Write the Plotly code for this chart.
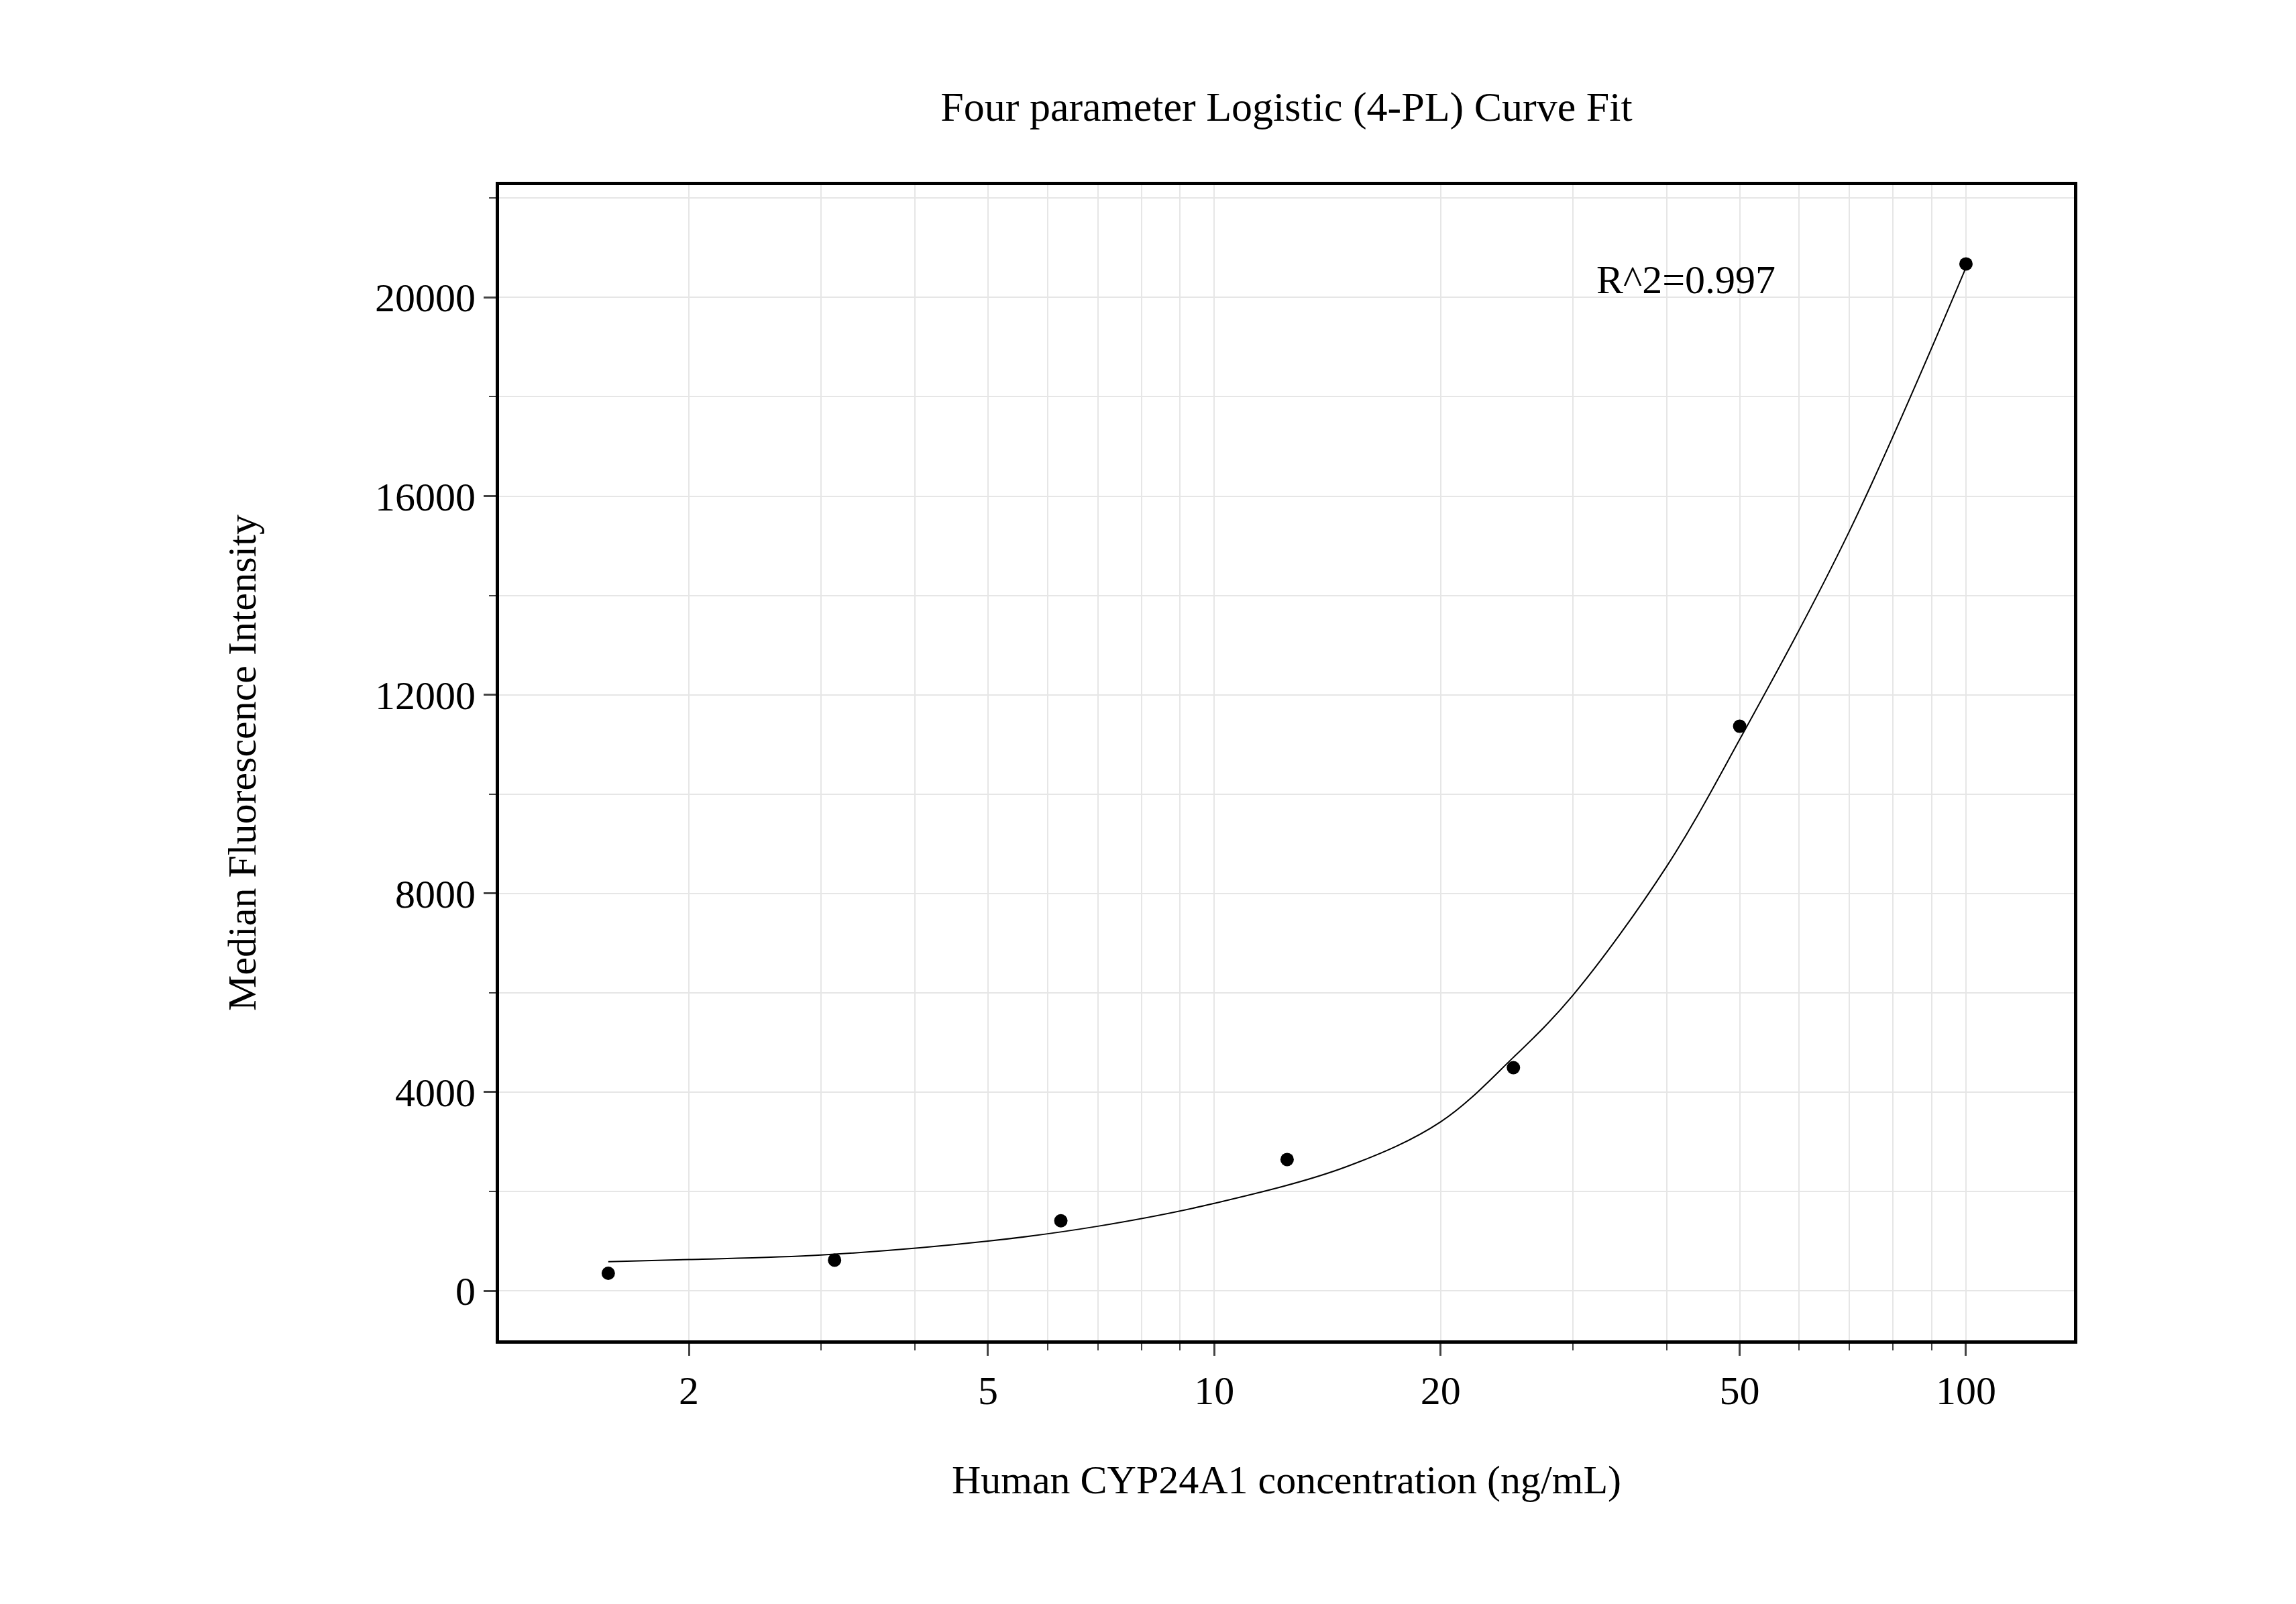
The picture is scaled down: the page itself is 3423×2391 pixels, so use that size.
import plotly.graph_objects as go

conc = [1.5625, 3.125, 6.25, 12.5, 25, 50, 100]
mfi = [352, 617, 1410, 2643, 4493, 11366, 20675]

fit_x = [1.5625, 2, 3, 5, 7, 10, 15, 20, 25, 30, 40, 50, 70, 100]
fit_y = [587, 630, 720, 1000, 1300, 1760, 2500, 3400, 4700, 5950, 8550, 11100, 15300, 20600]

x_ticks = [2, 5, 10, 20, 50, 100]
x_minor = [3, 4, 6, 7, 8, 9, 30, 40, 60, 70, 80, 90, 200]
y_ticks = [0, 4000, 8000, 12000, 16000, 20000]

font = "Liberation Serif"
fig = go.Figure()
fig.add_trace(go.Scatter(x=fit_x, y=fit_y, mode="lines", line_shape="spline",
                         line=dict(color="black", width=2), showlegend=False))
fig.add_trace(go.Scatter(x=conc, y=mfi, mode="markers",
                         marker=dict(color="black", size=20), showlegend=False))

fig.update_layout(
    width=3423, height=2391,
    margin=dict(l=736, r=339, t=268, b=401),
    plot_bgcolor="white", paper_bgcolor="white",
    font=dict(family=font, size=60, color="black"),
    title=dict(text="Four parameter Logistic (4-PL) Curve Fit", x=0.5, xref="paper",
               y=1 - 150 / 2391, yanchor="middle", font=dict(size=62)),
    annotations=[dict(x=1.507, y=20352, xref="x", yref="y", text="R^2=0.997",
                      showarrow=False, xanchor="left", yanchor="middle",
                      font=dict(size=60))],
)
fig.update_xaxes(
    type="log", range=[0.0485, 2.1437],
    tickvals=x_ticks, ticktext=[str(v) for v in x_ticks],
    ticks="outside", ticklen=18, tickwidth=3,
    minor=dict(tickvals=x_minor, ticks="outside", ticklen=10, tickwidth=2, showgrid=True,
               gridcolor="#e6e6e6", gridwidth=2),
    showgrid=True, gridcolor="#e6e6e6", gridwidth=2,
    showline=True, linecolor="black", linewidth=5, mirror=True,
    title=dict(text="Human CYP24A1 concentration (ng/mL)", standoff=80, font=dict(size=60)),
)
fig.update_yaxes(
    range=[-998, 22261], tickvals=y_ticks, ticktext=[str(v) for v in y_ticks],
    ticks="outside", ticklen=18, tickwidth=3,
    minor=dict(dtick=2000, ticks="outside", ticklen=10, tickwidth=2, showgrid=True,
               gridcolor="#e6e6e6", gridwidth=2),
    showgrid=True, gridcolor="#e6e6e6", gridwidth=2, zeroline=False,
    showline=True, linecolor="black", linewidth=5, mirror=True,
    title=dict(text="Median Fluorescence Intensity", standoff=160, font=dict(size=60)),
)
fig.write_html("out.html")
